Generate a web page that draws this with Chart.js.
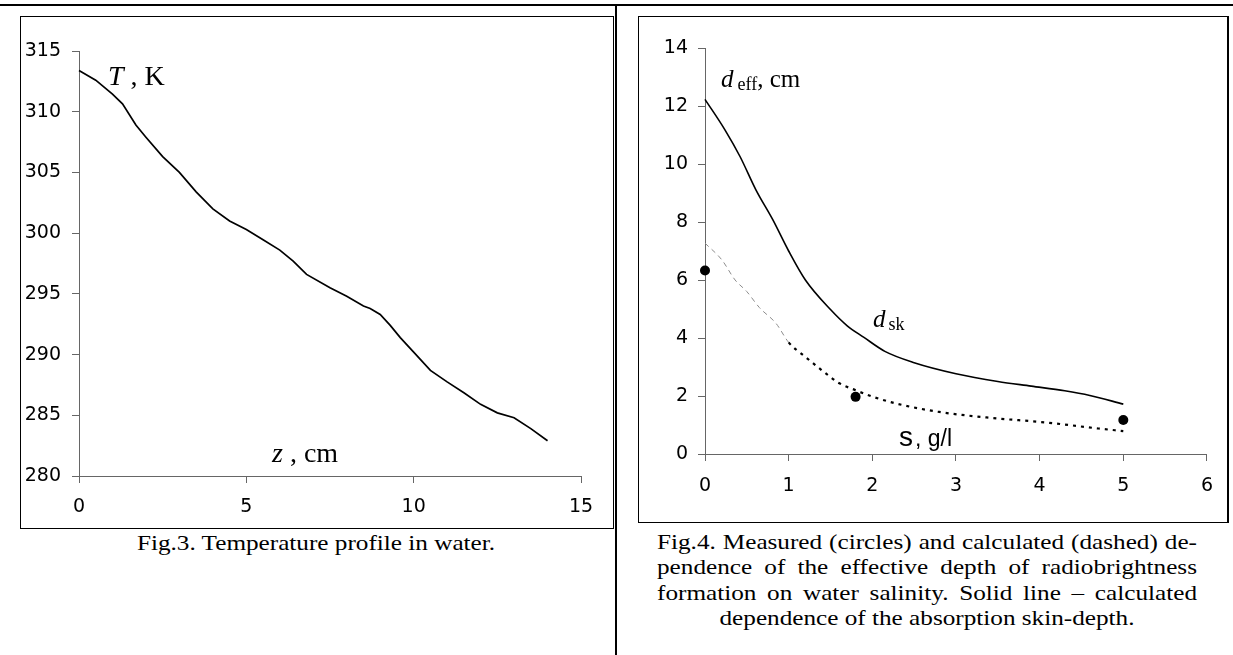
<!DOCTYPE html>
<html>
<head>
<meta charset="utf-8">
<script src="https://cdn.jsdelivr.net/npm/chart.js@4.4.1/dist/chart.umd.min.js"></script>
<style>
html,body{margin:0;padding:0;background:#fff;}
body{width:1233px;height:655px;position:relative;overflow:hidden;}
.abs{position:absolute;}
.hline{left:0;top:4px;width:1233px;height:2px;background:#000;}
.vline{left:615px;top:4px;width:2px;height:651px;background:#000;}
.frame{box-sizing:border-box;border:1px solid #000;}
.serif{font-family:"Liberation Serif","Times New Roman",serif;color:#000;white-space:nowrap;}
.sans{font-family:"Liberation Sans",Arial,sans-serif;color:#000;white-space:nowrap;}
canvas{position:absolute;}
.cap{font-family:"Liberation Serif","Times New Roman",serif;font-size:21px;line-height:25.5px;color:#000;}
.jl{text-align:justify;text-align-last:justify;}
</style>
</head>
<body>
<div class="abs hline"></div>
<div class="abs vline"></div>
<div class="abs frame" style="left:20px;top:16px;width:594px;height:513px;"></div>
<div class="abs frame" style="left:638px;top:16px;width:591px;height:507px;border-right-width:2px;"></div>

<canvas id="c1" width="591" height="510" style="left:21px;top:17px;width:591px;height:510px;"></canvas>
<canvas id="c2" width="588" height="505" style="left:639px;top:17px;width:588px;height:505px;"></canvas>

<!-- in-plot labels, left chart -->
<div class="abs serif" style="left:108px;top:61.5px;font-size:28px;line-height:28px;"><i>T</i> , K</div>
<div class="abs serif" style="left:272px;top:438.5px;font-size:28px;line-height:28px;"><i>z</i> , cm</div>

<!-- in-plot labels, right chart -->
<div class="abs serif" style="left:721px;top:65.8px;font-size:25px;line-height:25px;"><i>d</i><span style="font-size:18px;position:relative;top:3px;margin-left:4px;">eff</span>, cm</div>
<div class="abs serif" style="left:873px;top:306.4px;font-size:25px;line-height:25px;"><i>d</i><span style="font-size:18px;position:relative;top:3px;margin-left:3px;">sk</span></div>
<div class="abs sans" style="left:899px;top:423px;font-size:28px;line-height:28px;">s<span style="font-size:23px;margin-left:2px;">, g/l</span></div>

<!-- captions -->
<div class="abs cap" style="left:116px;top:531px;width:400px;text-align:center;transform:scaleX(1.2);transform-origin:50% 0;white-space:nowrap;">Fig.3. Temperature profile in water.</div>
<div class="abs cap" style="left:657px;top:529.5px;width:450px;transform:scaleX(1.2);transform-origin:0 0;">
  <div class="jl">Fig.4. Measured (circles) and calculated (dashed) de-</div>
  <div class="jl">pendence of the effective depth of radiobrightness</div>
  <div class="jl">formation on water salinity. Solid line – calculated</div>
  <div style="text-align:center;white-space:nowrap;">dependence of the absorption skin-depth.</div>
</div>

<script>
// ---- Fig.3 data: temperature profile in water ----
const depthZ = [0, 0.5, 1.0, 1.3, 1.7, 2.0, 2.5, 3.0, 3.5, 4.0, 4.5, 5.0, 5.5, 6.0, 6.4, 6.8, 7.5, 8.0, 8.5, 8.7, 9.0, 9.3, 9.6, 10.0, 10.5, 11.0, 11.5, 12.0, 12.5, 13.0, 13.5, 14.0];
const temperatureK = [313.4, 312.6, 311.45, 310.65, 308.9, 307.9, 306.3, 305.0, 303.4, 302.0, 301.0, 300.3, 299.45, 298.6, 297.7, 296.6, 295.5, 294.8, 294.0, 293.8, 293.3, 292.4, 291.4, 290.2, 288.7, 287.75, 286.85, 285.9, 285.2, 284.8, 283.9, 282.9];
const zTicks = [0, 5, 10, 15];
const tTicks = [280, 285, 290, 295, 300, 305, 310, 315];

// ---- Fig.4 data: depth vs salinity ----
const calcS = [0, 0.2, 0.36, 0.5, 0.65, 0.85, 1.0, 1.2, 1.4, 1.6, 1.8, 2.0, 2.3, 2.8, 3.4, 4.1, 4.7, 5.0];
const calcDeff = [7.27, 6.7, 6.0, 5.6, 5.05, 4.5, 3.85, 3.35, 2.88, 2.45, 2.2, 1.98, 1.73, 1.45, 1.25, 1.08, 0.88, 0.79];
const skinS = [0, 0.24, 0.42, 0.61, 0.81, 1.0, 1.2, 1.5, 1.7, 1.9, 2.15, 2.5, 3.0, 3.5, 3.9, 4.3, 4.6, 5.0];
const skinDsk = [12.23, 11.17, 10.25, 9.1, 8.08, 7.0, 6.0, 4.98, 4.42, 4.02, 3.54, 3.15, 2.77, 2.5, 2.34, 2.18, 2.02, 1.72];
const measS = [0, 1.8, 5.0];
const measDeff = [6.33, 1.97, 1.17];
const sTicks = [0, 1, 2, 3, 4, 5, 6];
const dTicks = [0, 2, 4, 6, 8, 10, 12, 14];

const axisGray = '#666';
const tickFont = {family: '"DejaVu Sans", sans-serif', size: 19};

function axis(min, max, ticksArr, pad, fit) {
  return {
    type: 'linear', min: min, max: max,
    afterBuildTicks: a => { a.ticks = ticksArr.map(v => ({value: v})); },
    afterFit: fit,
    grid: {display: true, drawOnChartArea: false, drawTicks: true, tickLength: 7, color: axisGray, lineWidth: 1},
    border: {display: true, color: axisGray, width: 1},
    ticks: {color: '#000', font: tickFont, padding: pad, maxRotation: 0, autoSkip: false}
  };
}

const common = {
  responsive: false, animation: false, events: [],
  plugins: {legend: {display: false}, tooltip: {enabled: false}}
};

new Chart(document.getElementById('c1'), {
  type: 'scatter',
  data: {
    datasets: [{
      data: depthZ.map((z, i) => ({x: z, y: temperatureK[i]})),
      showLine: true, borderColor: '#000', borderWidth: 1.7, pointRadius: 0,
      tension: 0, fill: false, clip: false
    }]
  },
  options: Object.assign({}, common, {
    layout: {padding: {left: 0, right: 31, top: 34, bottom: 0}},
    scales: {
      x: axis(0, 15, zTicks, 13, a => { a.height = 51; }),
      y: axis(280, 315, tTicks, 11, a => { a.width = 58; })
    }
  })
});

const thin = ctx => ctx.p1.parsed.x <= 1.0001;

new Chart(document.getElementById('c2'), {
  type: 'scatter',
  data: {
    datasets: [
      {
        data: measS.map((s, i) => ({x: s, y: measDeff[i]})),
        showLine: false, pointRadius: 5, pointBackgroundColor: '#000', pointBorderWidth: 0, clip: false
      },
      {
        data: skinS.map((s, i) => ({x: s, y: skinDsk[i]})),
        showLine: true, borderColor: '#000', borderWidth: 1.6, pointRadius: 0,
        cubicInterpolationMode: 'monotone', fill: false, clip: false
      },
      {
        data: calcS.map((s, i) => ({x: s, y: calcDeff[i]})),
        showLine: true, borderColor: '#000', borderWidth: 2.2, borderDash: [3, 5], pointRadius: 0,
        cubicInterpolationMode: 'monotone', fill: false, clip: false,
        segment: {
          borderColor: ctx => thin(ctx) ? '#8c8c8c' : '#000',
          borderWidth: ctx => thin(ctx) ? 1 : 2.2,
          borderDash: ctx => thin(ctx) ? [5, 4] : [3, 5]
        }
      }
    ]
  },
  options: Object.assign({}, common, {
    layout: {padding: {left: 0, right: 15, top: 31, bottom: 0}},
    scales: {
      x: axis(0, 6, sTicks, 14, a => { a.height = 68; }),
      y: axis(0, 14, dTicks, 10, a => { a.width = 66; })
    }
  })
});
</script>
</body>
</html>
